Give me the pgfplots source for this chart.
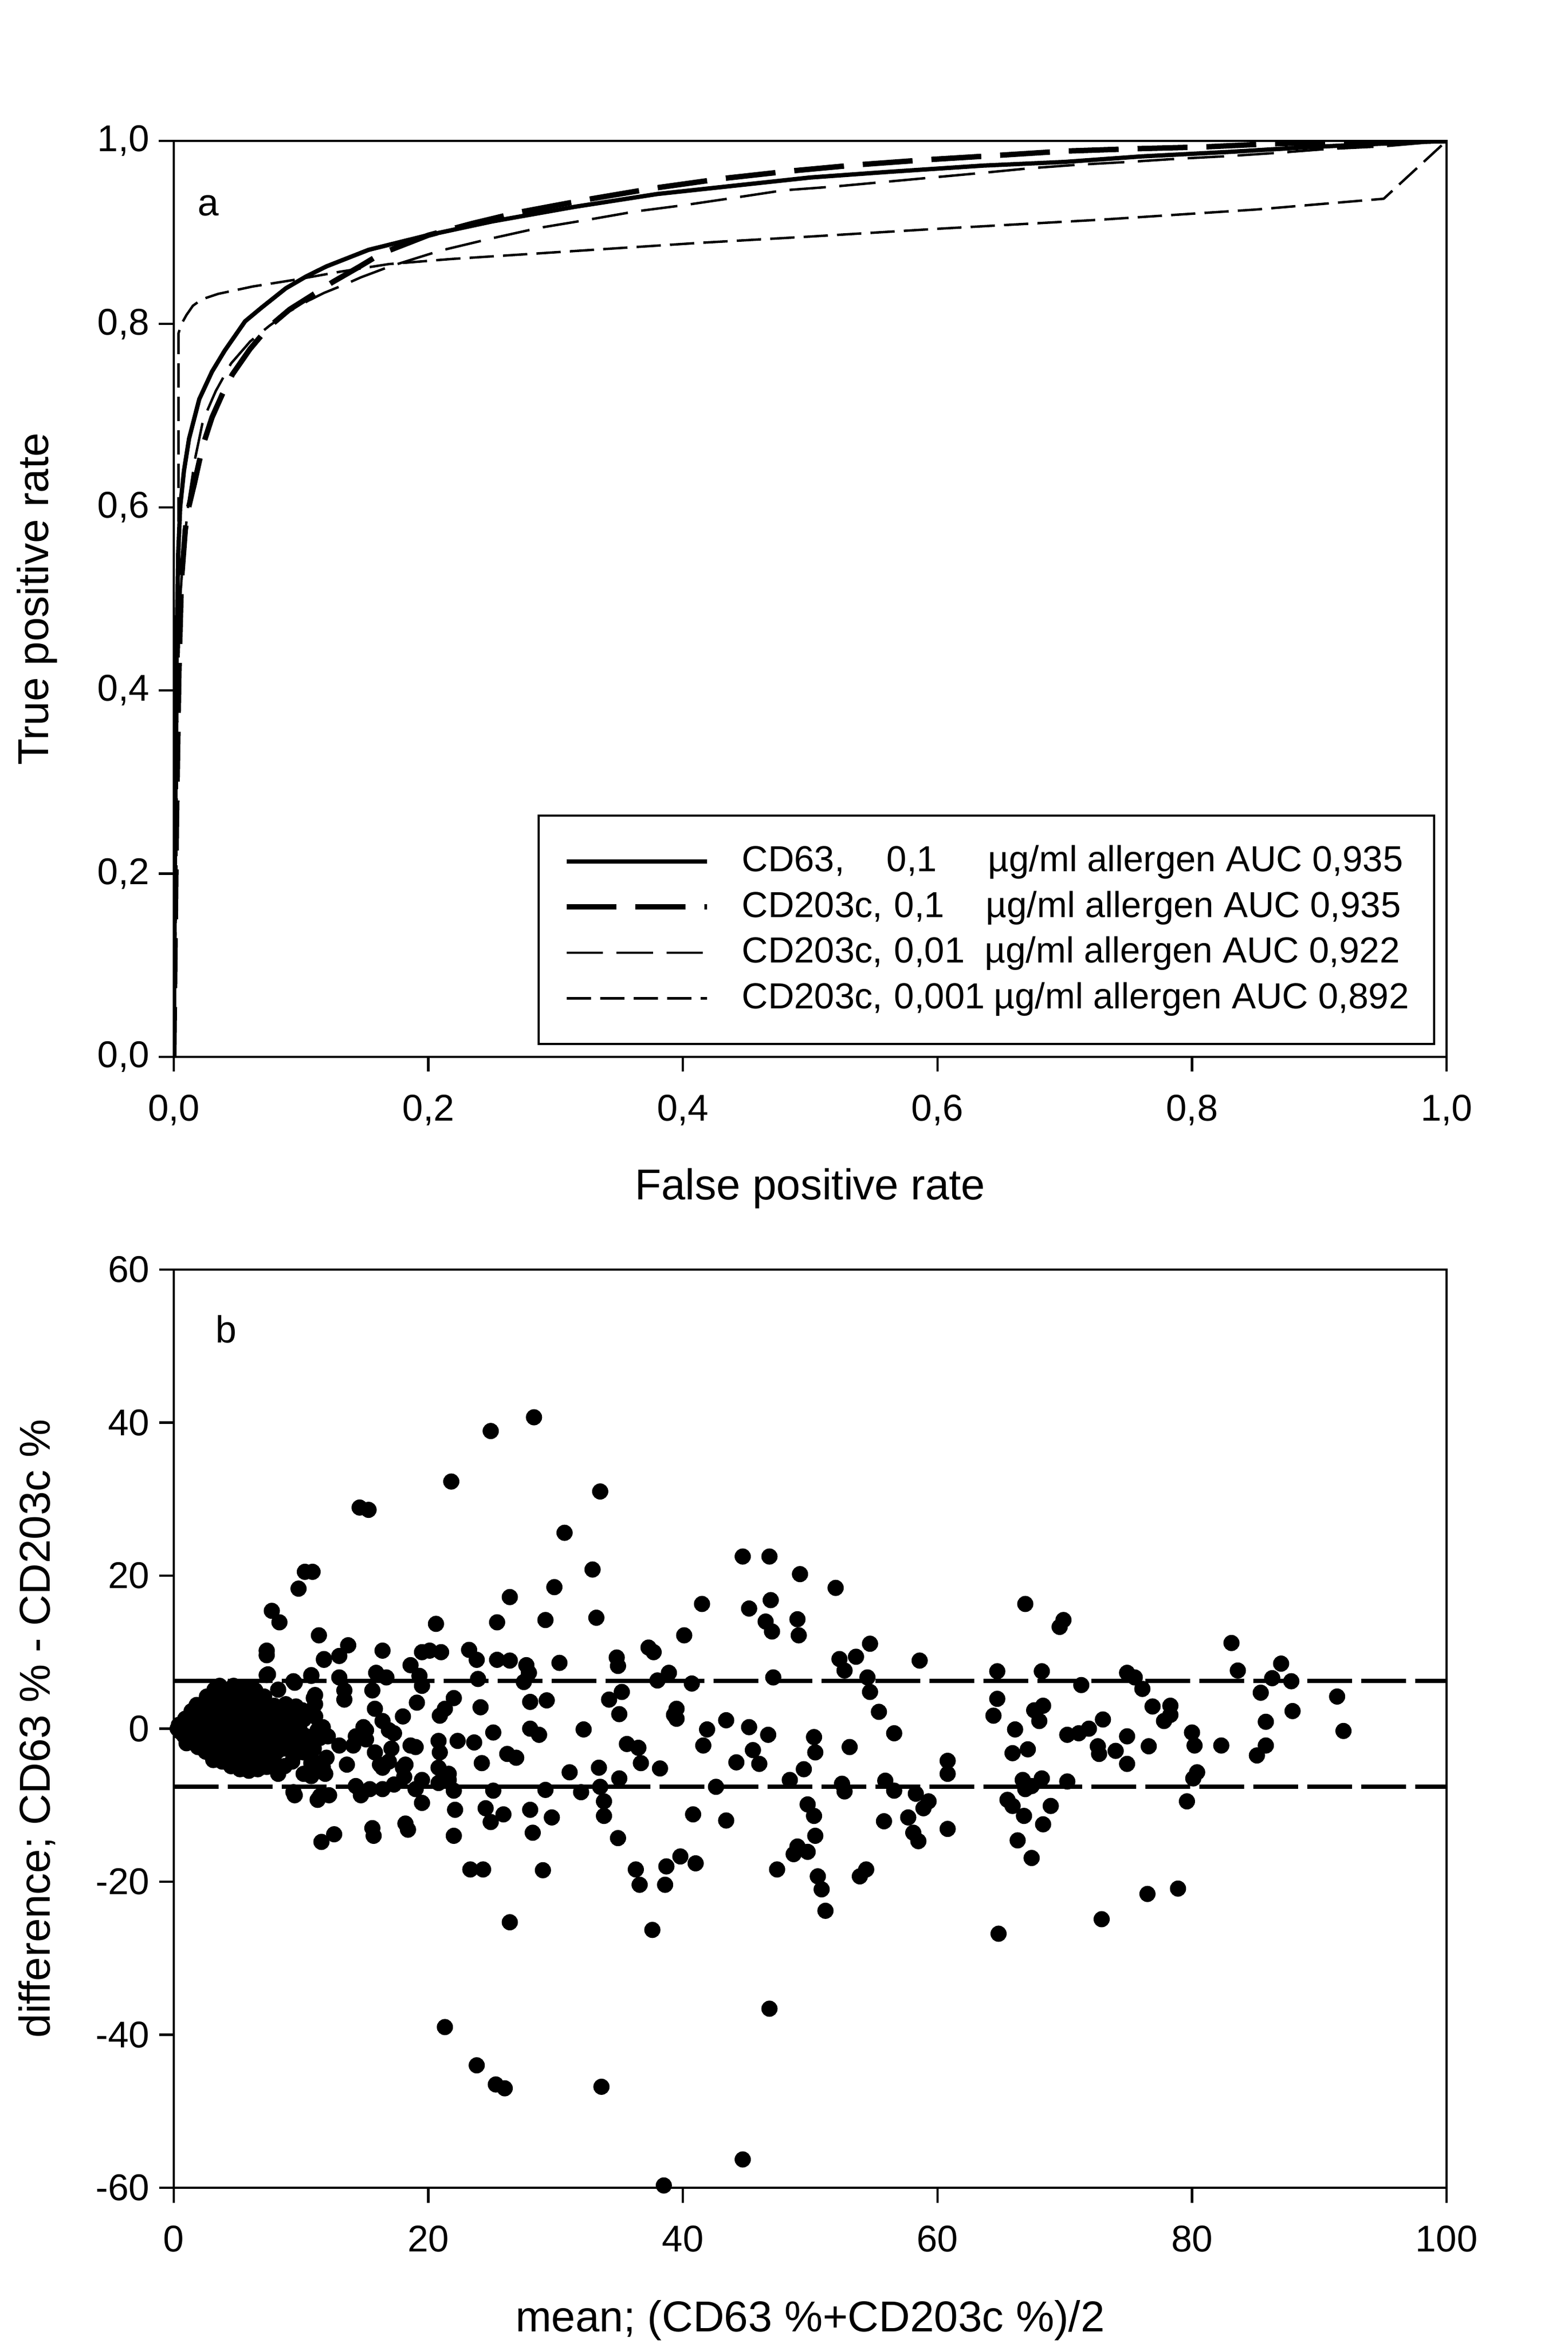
\documentclass[border=0pt]{standalone}
\usepackage{fontspec}
\setmainfont{Liberation Sans}
\usepackage{pgfplots}
\pgfplotsset{compat=1.18}
\begin{document}
\begin{tikzpicture}
\useasboundingbox (0,0) rectangle (580.8pt,869.6pt);
\pgfplotsset{
 myaxis/.style={
  scale only axis, anchor=south west,
  width=471.6pt,
  axis line style={line width=0.85pt},
  every tick/.style={line width=0.85pt, black},
  major tick length=5.5pt,
  tick align=outside,
  xtick pos=left, ytick pos=left,
  ticklabel style={font=\fontsize{13.8}{16}\selectfont},
  xticklabel style={yshift=-5pt},
  label style={font=\fontsize{16}{19}\selectfont},
  /pgf/number format/assume math mode=true,
 }
}
% ---------------- panel a ----------------
\begin{axis}[myaxis, at={(64.4pt,478pt)}, height=339.4pt,
  xmin=0, xmax=1, ymin=0, ymax=1,
  xtick={0,0.2,0.4,0.6,0.8,1}, ytick={0,0.2,0.4,0.6,0.8,1},
  /pgf/number format/use comma, /pgf/number format/fixed,
  /pgf/number format/fixed zerofill, /pgf/number format/precision=1,
  xlabel={False positive rate},
  xlabel style={at={(axis description cs:0.5,-0.1438)}, anchor=center},
  ylabel={True positive rate},
  ylabel style={at={(axis description cs:-0.1073,0.5)}, anchor=center},
  legend cell align=left,
  legend image code/.code={\draw[#1] (0pt,0pt) -- (52pt,0pt);},
  legend style={at={(0.9911,0.013)}, anchor=south east, draw=black, line width=0.8pt,
    font=\fontsize{13.4}{16}\selectfont, inner xsep=9.3pt, inner ysep=8.45pt,
    row sep=0pt, column sep=12pt,
    nodes={inner sep=0pt, text height=12.2pt, text depth=4.7pt}},
]
\addplot[black, line width=1.6pt, line join=round] coordinates {
(0,0) (0.0008,0.2) (0.0015,0.35) (0.0025,0.47) (0.0035,0.55) (0.005,0.6) (0.008,0.64)
(0.012,0.675) (0.02,0.718) (0.03,0.748) (0.04,0.771) (0.056,0.803) (0.069,0.818)
(0.088,0.839) (0.104,0.852) (0.12,0.863) (0.153,0.881) (0.198,0.8965) (0.25,0.912)
(0.315,0.928) (0.38,0.942) (0.44,0.951) (0.5,0.96) (0.56,0.966) (0.636,0.973)
(0.7,0.977) (0.76,0.983) (0.83,0.988) (0.89,0.993) (0.95,0.997) (1,1)};
\addlegendentry{\makebox[53.6pt][l]{CD63,}\makebox[37.6pt][l]{0,1}µg/ml allergen AUC 0,935}
\addplot[black, line width=2pt, dash pattern=on 18.5pt off 7pt] coordinates {
(0,0) (0.002,0.25) (0.004,0.42) (0.006,0.52) (0.009,0.575) (0.011,0.596) (0.016,0.625)
(0.02,0.65) (0.023,0.668) (0.03,0.698) (0.038,0.723) (0.046,0.745) (0.06,0.773)
(0.074,0.796) (0.091,0.816) (0.107,0.83) (0.125,0.846) (0.145,0.862) (0.163,0.877)
(0.2,0.897) (0.235,0.91) (0.271,0.922) (0.325,0.936) (0.378,0.9485) (0.432,0.959)
(0.484,0.967) (0.5385,0.974) (0.594,0.9796) (0.6455,0.984) (0.70,0.9888)
(0.753,0.9913) (0.808,0.9933) (0.861,0.9967) (0.93,0.999) (1,1)};
\addlegendentry{\makebox[56.4pt][l]{CD203c,}\makebox[34pt][l]{0,1}µg/ml allergen AUC 0,935}
\addplot[black, line width=0.9pt, dash pattern=on 13.5pt off 5pt] coordinates {
(0,0) (0.0015,0.25) (0.003,0.4) (0.005,0.5) (0.008,0.56) (0.012,0.61) (0.017,0.655)
(0.023,0.695) (0.033,0.727) (0.045,0.757) (0.06,0.781) (0.075,0.798) (0.091,0.814)
(0.105,0.825) (0.118,0.834) (0.134,0.843) (0.147,0.851) (0.17,0.863) (0.209,0.88)
(0.248,0.893) (0.287,0.905) (0.326,0.914) (0.363,0.923) (0.402,0.93) (0.441,0.938)
(0.479,0.946) (0.518,0.95) (0.557,0.955) (0.596,0.96) (0.635,0.965) (0.672,0.97)
(0.711,0.974) (0.75,0.977) (0.789,0.9805) (0.828,0.9833) (0.866,0.9868)
(0.905,0.991) (0.95,0.994) (1,1)};
\addlegendentry{\makebox[56.4pt][l]{CD203c,}\makebox[33.6pt][l]{0,01}µg/ml allergen AUC 0,922}
\addplot[black, line width=0.9pt, dash pattern=on 9pt off 3.4pt] coordinates {
(0,0) (0.002,0.2) (0.003,0.45) (0.0037,0.6) (0.0037,0.79) (0.006,0.8) (0.01,0.81)
(0.015,0.82) (0.022,0.827) (0.035,0.833) (0.062,0.841) (0.098,0.849) (0.13,0.857)
(0.169,0.8655) (0.2178,0.871) (0.2826,0.8768) (0.3476,0.8827) (0.4125,0.8886)
(0.4996,0.8955) (0.6,0.904) (0.7267,0.9138) (0.85,0.925) (0.9506,0.9368) (1,1)};
\addlegendentry{\makebox[56.4pt][l]{CD203c,}\makebox[37pt][l]{0,001}µg/ml allergen AUC 0,892}
\node[font=\fontsize{14}{16}\selectfont] at (axis cs:0.027,0.929) {a};
\end{axis}
% ---------------- panel b ----------------
\begin{axis}[myaxis, at={(64.4pt,59pt)}, height=340.2pt,
  xmin=0, xmax=100, ymin=-60, ymax=60, clip=false,
  xtick={0,20,40,60,80,100}, ytick={-60,-40,-20,0,20,40,60},
  xlabel={mean; (CD63 \%+CD203c \%)/2},
  xlabel style={at={(axis description cs:0.5,-0.1446)}, anchor=center},
  ylabel={difference; CD63 \% - CD203c \%},
  ylabel style={at={(axis description cs:-0.1073,0.5)}, anchor=center},
]
\addplot[black, line width=1.5pt, dash pattern=on 16.5pt off 3.5pt] coordinates {(0,6.25) (100,6.25)};
\addplot[black, line width=1.5pt, dash pattern=on 16.5pt off 3.5pt] coordinates {(0,-7.6) (100,-7.6)};
\addplot[only marks, mark=*, mark size=2.8pt, black, mark options={fill=black}] coordinates {
(0.3,0.0)(0.4,0.5)(0.5,-0.4)(0.8,-0.9)(0.8,0.3)(0.9,1.3)(1.0,-1.9)
(1.3,-1.6)(1.3,-0.2)(1.2,1.2)(1.4,2.3)
(1.9,-2.4)(1.8,-0.9)(1.9,0.6)(1.9,2.0)(1.8,3.1)
(2.5,-3.0)(2.4,-1.6)(2.5,0.0)(2.6,1.5)(2.4,3.0)(2.6,4.2)
(3.1,-4.1)(3.2,-2.2)(3.0,-0.7)(3.1,0.8)(3.2,2.3)(3.0,3.8)(3.2,5.1)
(3.8,-4.3)(3.7,-2.8)(3.9,-1.3)(3.8,0.2)(3.7,1.7)(3.9,3.2)(3.8,4.6)(3.6,5.6)
(4.5,-4.9)(4.4,-3.3)(4.6,-1.8)(4.5,-0.3)(4.4,1.2)(4.6,2.7)(4.5,4.2)(4.7,5.6)
(5.2,-5.3)(5.3,-3.8)(5.1,-2.3)(5.2,-0.8)(5.3,0.7)(5.1,2.2)(5.2,3.7)(5.3,5.0)
(5.9,-5.5)(5.8,-4.0)(6.0,-2.5)(5.9,-1.0)(5.8,0.5)(6.0,2.0)(5.9,3.5)(5.8,5.3)
(6.6,-5.3)(6.7,-3.8)(6.5,-2.3)(6.6,-0.8)(6.7,0.7)(6.5,2.2)(6.6,3.7)(6.4,5.0)
(7.3,-5.0)(7.2,-3.5)(7.4,-2.0)(7.3,-0.5)(7.2,1.0)(7.4,2.5)(7.1,4.2)
(8.0,-4.6)(8.1,-3.0)(7.9,-1.5)(8.0,0.0)(8.1,1.5)(7.9,3.0)(8.2,5.1)
(8.7,-4.9)(8.6,-2.6)(8.8,-1.0)(8.7,0.5)(8.6,2.0)(8.8,3.2)
(9.4,-3.6)(9.5,-1.8)(9.3,0.0)(9.4,1.8)(9.6,2.9)
(10.1,-2.8)(10.0,-0.5)(10.2,1.2)(10.1,2.4)
(9.4,6.2)(7.3,7.0)(7.3,9.6)(10.8,7.0)(11.1,4.4)(11.1,3.2)(11.1,1.6)(11.8,9.1)
(9.4,-8.3)(11.5,-8.8)(10.9,-4.1)(11.5,-1.2)(10.8,-6.2)(11.7,-5.0)
(11.0,-2.6)(10.8,-4.5)(12.0,-3.8)(15.1,-0.2)(16.4,1.0)(17.1,-2.6)(16.4,-5.1)(18.0,-5.1)(20.8,-7.1)(21.6,-5.9)
(28.3,40.7)(24.9,38.9)(21.8,32.3)(33.5,31.0)(14.6,28.9)(15.3,28.6)(30.7,25.6)(10.3,20.5)(10.9,20.5)
(9.8,18.3)(32.9,20.8)(29.9,18.5)(26.4,17.2)(29.2,14.2)(33.2,14.5)(25.4,13.9)(20.6,13.7)(7.7,15.4)
(8.3,13.9)(11.4,12.2)(7.3,10.2)(13.7,10.9)(13.0,9.5)(11.8,9.0)(16.4,10.2)(19.5,10.0)(20.1,10.2)
(21.0,10.0)(18.6,8.3)(23.2,10.3)(23.8,9.0)(25.4,9.0)(26.4,8.9)(27.7,8.3)(27.9,7.3)(30.3,8.6)
(23.9,6.5)(27.5,6.1)(7.4,7.1)(9.5,6.0)(10.8,6.9)(13.0,6.7)(15.9,7.3)(16.7,6.7)(19.3,6.9)(19.5,5.6)
(28.0,3.5)(29.3,3.7)(24.1,2.8)(22.0,4.0)(21.3,2.6)(20.9,1.7)(19.1,3.4)(18.0,1.6)(15.8,2.6)(15.6,5.0)
(13.4,5.0)(13.4,3.8)(11.0,4.0)(11.1,1.6)(32.2,-0.1)(25.1,-0.5)(28.0,0.0)(28.7,-0.8)(23.6,-1.8)
(22.3,-1.6)(20.8,-1.6)(20.9,-3.1)(18.6,-2.2)(19.0,-2.4)(24.2,-4.5)(26.2,-3.3)(26.9,-3.8)(31.1,-5.7)
(32.0,-8.3)(29.2,-8.0)(25.1,-8.1)(22.0,-8.1)(20.8,-5.1)(21.6,-6.7)(19.5,-6.7)(19.0,-7.9)(19.5,-9.7)
(18.2,-4.7)(18.1,-6.3)(16.9,-4.3)(16.2,-4.7)(15.8,-3.1)(16.9,-0.2)(17.3,-0.6)(14.9,0.2)(15.1,-1.4)
(14.3,-1.0)(14.1,-2.2)(13.0,-2.2)(13.6,-4.7)(12.1,-1.0)(11.7,0.2)(11.3,-0.2)(11.9,-5.9)(10.4,-1.0)
(10.2,-3.1)(10.2,-5.9)(9.3,-4.3)(8.2,-5.9)(9.5,-8.7)(11.3,-9.3)(12.2,-8.7)(14.3,-7.5)(14.7,-8.7)
(15.4,-7.9)(16.4,-7.9)(17.3,-7.3)(22.1,-10.6)(24.5,-10.4)(24.9,-12.2)(25.9,-11.2)(28.0,-10.6)
(29.7,-11.6)(22.0,-14.0)(28.2,-13.6)(11.6,-14.8)(12.6,-13.8)(15.6,-13.0)(15.7,-14.0)(18.2,-12.4)
(18.4,-13.2)(23.3,-18.4)(24.3,-18.4)(29.0,-18.5)
(44.7,22.5)(46.8,22.5)(49.2,20.2)(52.0,18.4)(41.5,16.3)(45.2,15.7)(46.9,16.8)(46.5,14.0)(47.0,12.7)
(49.0,14.3)(49.1,12.2)(40.1,12.2)(34.8,9.3)(34.9,8.2)(37.3,10.6)(37.7,10.0)(38.9,7.3)(38.0,6.3)
(40.7,5.9)(47.1,6.7)(52.3,9.1)(52.7,7.6)(53.6,9.4)(54.7,11.1)(54.5,6.7)(54.7,4.8)(58.6,8.9)
(64.7,7.5)(64.7,3.9)(64.4,1.7)(66.1,-0.1)(65.9,-3.2)(34.2,3.8)(35.2,4.8)(35.0,1.9)(39.3,1.8)
(39.5,2.6)(39.5,1.3)(55.4,2.2)(56.6,-0.6)(43.4,1.1)(41.9,-0.1)(41.6,-2.2)(45.2,0.2)(46.7,-0.8)
(35.6,-2.0)(36.5,-2.5)(36.7,-4.5)(38.2,-5.2)(33.4,-5.1)(35.0,-6.5)(33.5,-7.6)(33.8,-9.5)(33.8,-11.4)
(34.9,-14.3)(40.8,-11.2)(43.4,-12.0)(42.6,-7.6)(44.2,-4.4)(45.5,-2.8)(46.0,-4.6)(50.3,-1.1)
(50.4,-3.1)(53.1,-2.4)(49.5,-5.3)(48.4,-6.7)(52.5,-7.2)(52.7,-8.2)(55.9,-6.8)(56.6,-8.1)(58.3,-8.5)
(59.3,-9.5)(58.9,-10.4)(60.8,-4.2)(60.8,-5.9)(55.8,-12.1)(57.7,-11.6)(58.1,-13.6)(58.5,-14.7)
(60.8,-13.1)(49.8,-9.9)(50.3,-11.4)(50.4,-14.0)(49.0,-15.4)(48.7,-16.4)(49.8,-16.1)(36.3,-18.4)
(38.7,-18.0)(39.8,-16.7)(41.0,-17.6)(47.4,-18.4)(50.6,-19.3)(54.4,-18.4)(53.9,-19.3)(65.5,-9.3)
(65.9,-10.1)
(66.9,16.3)(69.9,14.2)(69.6,13.3)(83.1,11.2)(68.2,7.5)(71.3,5.7)(74.9,7.3)(75.5,6.7)(76.1,5.2)
(83.6,7.6)(87.0,8.5)(86.3,6.6)(87.8,6.2)(85.4,4.7)(91.4,4.2)(87.9,2.3)(85.8,0.9)(91.9,-0.3)
(68.3,3.0)(67.6,2.4)(68.0,1.0)(73.0,1.2)(71.9,0.0)(71.1,-0.6)(70.2,-0.8)(76.9,2.9)(78.3,3.0)
(78.3,1.8)(77.8,1.0)(74.9,-1.0)(72.6,-2.3)(72.7,-3.3)(74.0,-2.9)(74.9,-4.6)(76.6,-2.3)(80.0,-0.5)
(80.2,-2.2)(82.3,-2.2)(85.8,-2.2)(85.1,-3.5)(80.4,-5.7)(80.1,-6.5)(67.1,-2.7)(66.7,-6.7)(67.4,-7.5)
(68.2,-6.5)(70.2,-6.9)(66.9,-7.9)(68.9,-10.1)(66.8,-11.4)(68.3,-12.5)(66.3,-14.6)(67.4,-16.9)
(79.6,-9.5)
(21.3,-39.0)(23.8,-44.0)(25.3,-46.5)(26.0,-47.0)(33.6,-46.8)(38.5,-59.7)(44.7,-56.3)(46.8,-36.6)
(26.4,-25.3)(37.6,-26.3)(36.6,-20.4)(38.6,-20.4)(50.9,-21.0)(51.2,-23.8)(64.8,-26.8)(72.9,-24.9)
(76.5,-21.6)(78.9,-20.9)
};
\node[font=\fontsize{14}{16}\selectfont] at (axis cs:4.1,52.2) {b};
\end{axis}
\end{tikzpicture}
\end{document}
